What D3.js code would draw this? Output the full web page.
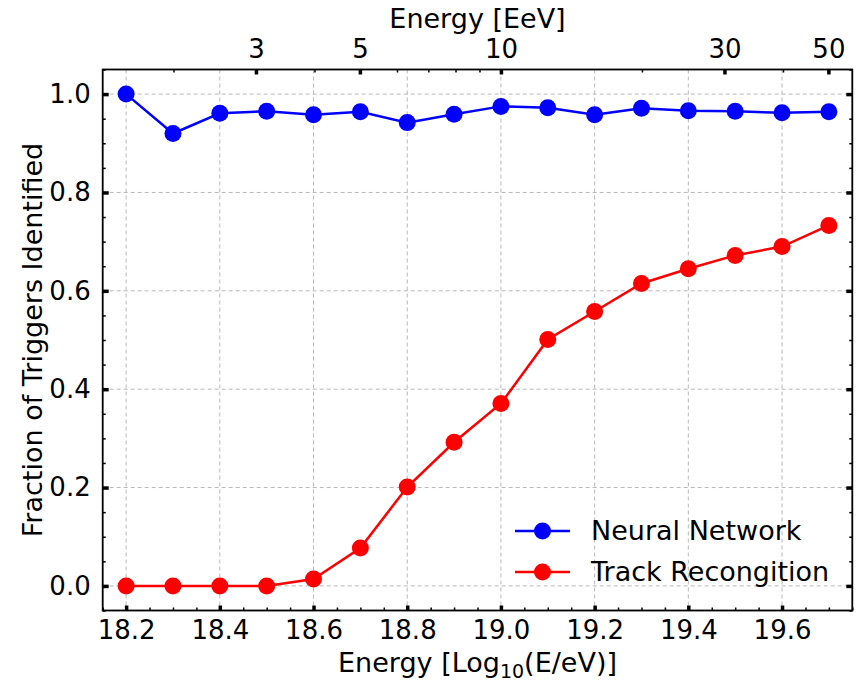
<!DOCTYPE html>
<html>
<head>
<meta charset="utf-8">
<script src="https://cdn.jsdelivr.net/npm/d3@7"></script>
<style>
    body { margin: 0; background: #fff; }
    svg { display: block; font-family: "DejaVu Sans", sans-serif; }
</style>
</head>
<body>
<div id="chart"></div>
<script>
// Fraction of triggers identified vs energy

const energies = [18.2, 18.3, 18.4, 18.5, 18.6, 18.7, 18.8, 18.9, 19.0, 19.1, 19.2, 19.3, 19.4, 19.5, 19.6, 19.7];
const neuralNetwork = [1.0, 0.920, 0.961, 0.965, 0.958, 0.964, 0.942, 0.959, 0.975, 0.972, 0.958, 0.971, 0.966, 0.965, 0.962, 0.964];
const trackRecognition = [0.0, 0.0, 0.0, 0.0, 0.014, 0.077, 0.201, 0.292, 0.371, 0.501, 0.558, 0.615, 0.645, 0.672, 0.690, 0.733];

const xTicks = [18.2, 18.4, 18.6, 18.8, 19.0, 19.2, 19.4, 19.6];
const yTicks = [0.0, 0.2, 0.4, 0.6, 0.8, 1.0];
const topTicks = [3, 5, 10, 30, 50];
const topMinorTicks = [2, 4, 6, 7, 8, 9, 20, 40];

const series = [
    { name: 'Neural Network', values: neuralNetwork, color: '#0000ff' },
    { name: 'Track Recongition', values: trackRecognition, color: '#ff0000' }
];

const W = 863, H = 681;
const plot = { left: 102.7, right: 852.3, top: 69.5, bottom: 610.5 };
const tickFont = '26px', labelFont = '27px';

const svg = d3.select('#chart').append('svg')
    .attr('width', W)
    .attr('height', H);

const x = d3.scaleLinear().domain([18.15, 19.75]).range([plot.left, plot.right]);
const y = d3.scaleLinear().domain([-0.05, 1.05]).range([plot.bottom, plot.top]);
const xTop = d3.scaleLog().domain([Math.pow(10, 0.15), Math.pow(10, 1.75)]).range([plot.left, plot.right]);

// minor tick positions every 0.05
const xMinor = d3.range(18.15, 19.751, 0.05).map(v => +v.toFixed(2)).filter(v => !xTicks.some(t => Math.abs(t - v) < 1e-6));
const yMinor = d3.range(-0.05, 1.051, 0.05).map(v => +v.toFixed(2)).filter(v => !yTicks.some(t => Math.abs(t - v) < 1e-6));

// grid
const grid = svg.append('g')
    .attr('stroke', '#b8b8b8')
    .attr('stroke-width', 1)
    .attr('stroke-dasharray', '4,3');

grid.selectAll('.vgrid')
    .data(xTicks)
    .enter()
    .append('line')
    .attr('x1', d => x(d)).attr('x2', d => x(d))
    .attr('y1', plot.top).attr('y2', plot.bottom);

grid.selectAll('.hgrid')
    .data(yTicks)
    .enter()
    .append('line')
    .attr('x1', plot.left).attr('x2', plot.right)
    .attr('y1', d => y(d)).attr('y2', d => y(d));

// lines and markers
const line = d3.line()
    .x((d, i) => x(energies[i]))
    .y(d => y(d));

series.forEach(s => {
    svg.append('path')
        .datum(s.values)
        .attr('fill', 'none')
        .attr('stroke', s.color)
        .attr('stroke-width', 2.5)
        .attr('d', line);

    svg.selectAll(null)
        .data(s.values)
        .enter()
        .append('circle')
        .attr('cx', (d, i) => x(energies[i]))
        .attr('cy', d => y(d))
        .attr('r', 8.5)
        .attr('fill', s.color);
});

// axes with inward ticks
function styleAxis(g, width) {
    g.select('.domain').remove();
    g.selectAll('.tick line').attr('stroke', '#000').attr('stroke-width', width);
    g.selectAll('.tick text')
        .attr('fill', '#000')
        .style('font-size', tickFont)
        .style('font-family', '"DejaVu Sans", sans-serif');
}

svg.append('g')
    .attr('transform', `translate(0,${plot.bottom})`)
    .call(d3.axisBottom(x).tickValues(xTicks).tickFormat(d3.format('.1f')).tickSize(-5).tickPadding(10))
    .call(g => styleAxis(g, 3.5));

svg.append('g')
    .attr('transform', `translate(0,${plot.bottom})`)
    .call(d3.axisBottom(x).tickValues(xMinor).tickFormat('').tickSize(-3))
    .call(g => styleAxis(g, 1.5));

svg.append('g')
    .attr('transform', `translate(${plot.left},0)`)
    .call(d3.axisLeft(y).tickValues(yTicks).tickFormat(d3.format('.1f')).tickSize(-6).tickPadding(12))
    .call(g => styleAxis(g, 3.5));

svg.append('g')
    .attr('transform', `translate(${plot.left},0)`)
    .call(d3.axisLeft(y).tickValues(yMinor).tickFormat('').tickSize(-3))
    .call(g => styleAxis(g, 1.5));

svg.append('g')
    .attr('transform', `translate(${plot.right},0)`)
    .call(d3.axisRight(y).tickValues(yTicks).tickFormat('').tickSize(-6))
    .call(g => styleAxis(g, 3.5));

svg.append('g')
    .attr('transform', `translate(${plot.right},0)`)
    .call(d3.axisRight(y).tickValues(yMinor).tickFormat('').tickSize(-3))
    .call(g => styleAxis(g, 1.5));

svg.append('g')
    .attr('transform', `translate(0,${plot.top})`)
    .call(d3.axisTop(xTop).tickValues(topTicks).tickFormat(d3.format('d')).tickSize(-5).tickPadding(12))
    .call(g => styleAxis(g, 3.5));

svg.append('g')
    .attr('transform', `translate(0,${plot.top})`)
    .call(d3.axisTop(xTop).tickValues(topMinorTicks).tickFormat('').tickSize(-3))
    .call(g => styleAxis(g, 1.5));

// frame
svg.append('rect')
    .attr('x', plot.left).attr('y', plot.top)
    .attr('width', plot.right - plot.left).attr('height', plot.bottom - plot.top)
    .attr('fill', 'none')
    .attr('stroke', '#000')
    .attr('stroke-width', 1.8);

// axis labels
const bottomLabel = svg.append('text')
    .attr('x', (plot.left + plot.right) / 2)
    .attr('y', 672)
    .attr('text-anchor', 'middle')
    .attr('font-size', labelFont)
    .attr('fill', '#000');
bottomLabel.append('tspan').text('Energy [Log');
bottomLabel.append('tspan').attr('font-size', '19px').attr('dy', 6).text('10');
bottomLabel.append('tspan').attr('dy', -6).text('(E/eV)]');

svg.append('text')
    .attr('x', (plot.left + plot.right) / 2)
    .attr('y', 28)
    .attr('text-anchor', 'middle')
    .attr('font-size', labelFont)
    .attr('fill', '#000')
    .text('Energy [EeV]');

svg.append('text')
    .attr('transform', `translate(42,${(plot.top + plot.bottom) / 2}) rotate(-90)`)
    .attr('text-anchor', 'middle')
    .attr('font-size', labelFont)
    .attr('fill', '#000')
    .text('Fraction of Triggers Identified');

// legend
const legend = svg.append('g').attr('transform', 'translate(515,531)');
series.forEach((s, i) => {
    const row = legend.append('g').attr('transform', `translate(0,${i * 41})`);
    row.append('line')
        .attr('x1', 0).attr('x2', 55)
        .attr('stroke', s.color)
        .attr('stroke-width', 2.5);
    row.append('circle')
        .attr('cx', 27.5)
        .attr('r', 8.5)
        .attr('fill', s.color);
    row.append('text')
        .attr('x', 76)
        .attr('dy', '0.35em')
        .attr('font-size', labelFont)
        .attr('fill', '#000')
        .text(s.name);
});
</script>
</body>
</html>
